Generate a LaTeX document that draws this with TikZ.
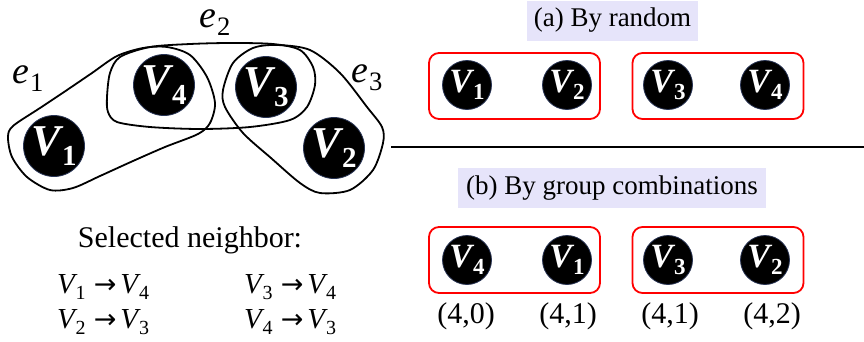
\documentclass[tikz,border=0pt]{standalone}
\usepackage{fontspec}
\setmainfont{Liberation Serif}
\newfontfamily\tnr{Liberation Serif}
\newfontfamily\dvs{DejaVu Sans}
\definecolor{circ}{RGB}{40,52,84}
\definecolor{lav}{RGB}{230,228,250}
% italic letter with upright, lowered subscript: #1 letter, #2 subscript, #3 size, #4 subscript size
\newcommand\sublab[4]{{\fontsize{#3}{#3}\selectfont\itshape #1}{\fontsize{#4}{#4}\selectfont\kern0.04em\raisebox{-0.33em}{#2}}}
\newcommand\rarr{{\dvs\fontsize{27}{27}\selectfont\hspace{0.3em}→\hspace{0.15em}}}
\begin{document}
\begin{tikzpicture}[x=1pt,y=-1pt,
  hedge/.style={draw=black, line width=1.8pt},
  bigv/.style={circle, fill=black, draw=circ, line width=0.8pt, minimum size=61pt, inner sep=0pt, text=white, font=\tnr\bfseries},
  smallv/.style={circle, fill=black, draw=circ, line width=0.8pt, minimum size=49pt, inner sep=0pt, text=white, font=\tnr\bfseries},
  grp/.style={draw=red, line width=1.8pt, rounded corners=10pt, minimum width=171pt, minimum height=66pt, inner sep=0pt},
  hdr/.style={fill=lav, inner sep=0pt, font=\tnr\fontsize{27}{30}\selectfont},
  txt/.style={font=\tnr\fontsize{30}{32}\selectfont, inner sep=0pt, anchor=base},
  mth/.style={font=\tnr, inner sep=0pt, anchor=base west},
  elab/.style={font=\tnr, inner sep=0pt, anchor=base west}]
\useasboundingbox (0,0) rectangle (864,341);

% hyperedges
\draw[hedge] plot[smooth cycle] coordinates {(8,137) (13,126) (40,108) (67,90) (92,73) (117,56) (143,48) (167,47) (190,55) (207,77) (215,103) (210,123) (198,134) (165,147) (133,161) (100,176) (73,188) (50,190) (27,177) (12,157)};
\draw[hedge] plot[smooth cycle] coordinates {(107,97) (110,73) (120,57) (150,47) (190,44) (230,43) (273,44) (300,50) (313,67) (315,85) (307,107) (290,120) (250,127) (200,129) (150,127) (117,122) (108,112)};
\draw[hedge] plot[smooth cycle] coordinates {(253,48) (277,45) (310,50) (340,73) (367,107) (382,127) (383,143) (373,170) (350,190) (320,193) (300,183) (271,158) (243,133) (225,107) (223,90) (233,63)};

\node[elab] (e1) at (12,83) {\scalebox{1.4}{\sublab{e}{1}{27}{19}}};
\node[elab] (e2) at (199,27) {\scalebox{1.4}{\sublab{e}{2}{27}{19}}};
\node[elab] (e3) at (351,82) {\scalebox{1.4}{\sublab{e}{3}{27}{19}}};

% vertices of hypergraph
\node[bigv] (v1) at (54,146) {\sublab{V}{1}{44}{29}};
\node[bigv] (v4) at (164,85) {\sublab{V}{4}{44}{29}};
\node[bigv] (v3) at (266,87) {\sublab{V}{3}{44}{29}};
\node[bigv] (v2) at (334,148) {\sublab{V}{2}{44}{29}};

% selected neighbors
\node[txt] (sel) at (190,247) {Selected neighbor:};
\node[mth] (n1) at (57,293) {\sublab{V}{1}{29}{20}\rarr\sublab{V}{4}{29}{20}};
\node[mth] (n2) at (57,328) {\sublab{V}{2}{29}{20}\rarr\sublab{V}{3}{29}{20}};
\node[mth] (n3) at (244,293) {\sublab{V}{3}{29}{20}\rarr\sublab{V}{4}{29}{20}};
\node[mth] (n4) at (244,328) {\sublab{V}{4}{29}{20}\rarr\sublab{V}{3}{29}{20}};

% divider
\coordinate (dl) at (391,147);
\coordinate (dr) at (864,147);
\draw[line width=2pt] (dl) -- (dr);

% (a)
\node[hdr, minimum width=171pt, minimum height=40pt] (ha) at (612.5,20.5) {(a) By random};
\node[grp] (ga1) at (514.5,86) {};
\node[grp] (ga2) at (718,86) {};
\node[smallv] (a1) at (467,85) {\sublab{V}{1}{34}{23}};
\node[smallv] (a2) at (567,85) {\sublab{V}{2}{34}{23}};
\node[smallv] (a3) at (668,85) {\sublab{V}{3}{34}{23}};
\node[smallv] (a4) at (765,85) {\sublab{V}{4}{34}{23}};

% (b)
\node[hdr, minimum width=308pt, minimum height=40pt] (hb) at (612,188) {(b) By group combinations};
\node[grp] (gb1) at (514.5,260) {};
\node[grp] (gb2) at (718,260) {};
\node[smallv] (b1) at (467,260) {\sublab{V}{4}{34}{23}};
\node[smallv] (b2) at (567,260) {\sublab{V}{1}{34}{23}};
\node[smallv] (b3) at (668,260) {\sublab{V}{3}{34}{23}};
\node[smallv] (b4) at (765,260) {\sublab{V}{2}{34}{23}};

\node[txt] (p1) at (466,323.5) {(4,0)};
\node[txt] (p2) at (568,323.5) {(4,1)};
\node[txt] (p3) at (670,323.5) {(4,1)};
\node[txt] (p4) at (772,323.5) {(4,2)};
\end{tikzpicture}
\end{document}
